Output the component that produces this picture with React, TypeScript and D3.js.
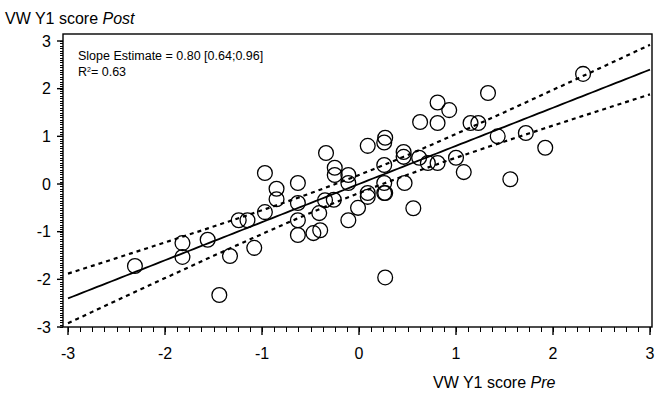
import React from "react";
import * as d3 from "d3";

// Observed scores: pre (x) and post (y)
const preScores = [
  -2.31, -1.82, -1.82, -1.56, -1.44, -1.33, -1.24, -1.15, -1.08, -0.97,
  -0.97, -0.85, -0.85, -0.63, -0.63, -0.63, -0.63, -0.47, -0.40, -0.41,
  -0.35, -0.34, -0.25, -0.25, -0.26, -0.11, -0.11, -0.11, -0.01, 0.09,
  0.09, 0.09, 0.27, 0.26, 0.26, 0.26, 0.26, 0.27, 0.27, 0.46,
  0.46, 0.47, 0.56, 0.63, 0.62, 0.71, 0.81, 0.81, 0.81, 0.93,
  1.00, 1.08, 1.15, 1.23, 1.33, 1.43, 1.56, 1.72, 1.92, 2.31,
];
const postScores = [
  -1.72, -1.24, -1.53, -1.17, -2.33, -1.51, -0.76, -0.76, -1.34, -0.59,
  0.23, -0.10, -0.32, 0.02, -0.40, -0.76, -1.07, -1.03, -0.97, -0.61,
  -0.34, 0.65, 0.34, 0.19, -0.33, 0.19, 0.02, -0.76, -0.50, 0.80,
  -0.19, -0.27, 0.97, 0.87, 0.40, 0.02, -0.19, -0.19, -1.96, 0.67,
  0.57, 0.02, -0.51, 1.30, 0.55, 0.44, 1.28, 1.71, 0.44, 1.55,
  0.55, 0.25, 1.28, 1.28, 1.91, 1.00, 0.10, 1.07, 0.76, 2.31,
];

// Fitted regression and its confidence band
const slope = 0.8;
const intercept = 0.0;
const ciHalfWidthAtMean = 0.19;
const ciHalfWidthAtEdge = 0.52;

const xTicks = [-3, -2, -1, 0, 1, 2, 3];
const yTicks = [-3, -2, -1, 0, 1, 2, 3];

const statLines = ["Slope Estimate = 0.80 [0.64;0.96]", "R", "= 0.63"];
const yTitle = ["VW Y1 score ", "Post"];
const xTitle = ["VW Y1 score ", "Pre"];

const W = 664;
const H = 393;
const frame = { left: 63, top: 34, right: 652, bottom: 327 };
const FONT = "Liberation Sans, Arial, Helvetica, sans-serif";

export default function App() {
  const x = d3.scaleLinear().domain([-3, 3]).range([68, 650]);
  const y = d3.scaleLinear().domain([-3, 3]).range([327, 41]);

  const xs = d3.range(-3, 3.0001, 0.05);
  const fit = (v: number) => intercept + slope * v;
  const half = (v: number) =>
    Math.sqrt(
      ciHalfWidthAtMean ** 2 +
        (ciHalfWidthAtEdge ** 2 - ciHalfWidthAtMean ** 2) * (v / 3) ** 2
    );
  const path = (f: (v: number) => number) =>
    d3
      .line<number>()
      .x((v) => x(v))
      .y((v) => y(f(v)))(xs) as string;

  const xMinor = d3.range(-3, 3.0001, 0.125);
  const yMinor = d3.range(-3, 3.0001, 0.05);
  const px = (v: number) => Math.round(v) + 0.5;

  return (
    <svg
      width={W}
      height={H}
      style={{ position: "absolute", left: 0, top: 0, background: "#fff" }}
      fontFamily={FONT}
    >
      <rect width={W} height={H} fill="#fff" />
      {/* frame */}
      <rect
        x={frame.left}
        y={frame.top}
        width={frame.right - frame.left}
        height={frame.bottom - frame.top}
        fill="none"
        stroke="#000"
        strokeWidth={1.4}
      />
      {/* y axis ticks */}
      <g shapeRendering="crispEdges">
        {yMinor.map((v, i) => (
          <line
            key={"ym" + i}
            x1={frame.left - 3}
            x2={frame.left}
            y1={px(y(v))}
            y2={px(y(v))}
            stroke="#000"
            strokeWidth={1}
          />
        ))}
        {xMinor.map((v, i) => (
          <line
            key={"xm" + i}
            x1={px(x(v))}
            x2={px(x(v))}
            y1={frame.bottom}
            y2={frame.bottom + 5}
            stroke="#000"
            strokeWidth={1}
          />
        ))}
      </g>
      {yTicks.map((v) => (
        <g key={"yt" + v}>
          <line
            x1={frame.left - 6}
            x2={frame.left}
            y1={y(v)}
            y2={y(v)}
            stroke="#000"
            strokeWidth={1.4}
          />
          <text
            x={frame.left - 12}
            y={y(v)}
            dy="0.36em"
            textAnchor="end"
            fontSize={16}
          >
            {v}
          </text>
        </g>
      ))}
      {xTicks.map((v) => (
        <g key={"xt" + v}>
          <line
            x1={x(v)}
            x2={x(v)}
            y1={frame.bottom}
            y2={frame.bottom + 8}
            stroke="#000"
            strokeWidth={1.4}
          />
          <text
            x={x(v)}
            y={frame.bottom + 32}
            textAnchor="middle"
            fontSize={16}
          >
            {v}
          </text>
        </g>
      ))}

      {/* regression line and confidence band */}
      <path d={path(fit)} fill="none" stroke="#000" strokeWidth={1.8} />
      <path
        d={path((v) => fit(v) + half(v))}
        fill="none"
        stroke="#000"
        strokeWidth={2.2}
        strokeDasharray="4 4"
      />
      <path
        d={path((v) => fit(v) - half(v))}
        fill="none"
        stroke="#000"
        strokeWidth={2.2}
        strokeDasharray="4 4"
      />

      {/* observations */}
      {preScores.map((p, i) => (
        <circle
          key={"pt" + i}
          cx={x(p)}
          cy={y(postScores[i])}
          r={7.4}
          fill="none"
          stroke="#000"
          strokeWidth={1.3}
        />
      ))}

      {/* statistics */}
      <text x={78} y={60} fontSize={12.5}>
        {statLines[0]}
      </text>
      <text x={78} y={76} fontSize={12.5}>
        {statLines[1]}
        <tspan dy={-4} fontSize={7}>
          2
        </tspan>
        <tspan dy={4}>{statLines[2]}</tspan>
      </text>

      {/* axis titles */}
      <text x={5} y={24} fontSize={16}>
        {yTitle[0]}
        <tspan fontStyle="italic">{yTitle[1]}</tspan>
      </text>
      <text x={433} y={388} fontSize={16}>
        {xTitle[0]}
        <tspan fontStyle="italic">{xTitle[1]}</tspan>
      </text>
    </svg>
  );
}
